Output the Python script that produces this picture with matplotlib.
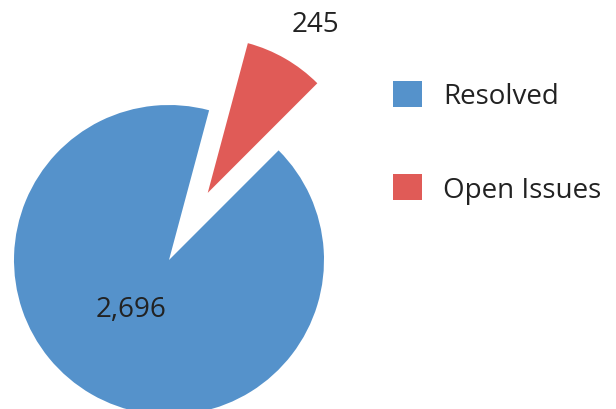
import numpy as np
import matplotlib
matplotlib.use("Agg")
import matplotlib.pyplot as plt
from matplotlib.patches import Patch

categories = ["Resolved", "Open Issues"]
counts = [2696, 245]
colors = ["#5592CB", "#E05B57"]
explode = [0.0, 0.5]

plt.rcParams["font.family"] = ["Open Sans", "DejaVu Sans"]

W, H, DPI = 616, 410, 100
fig = plt.figure(figsize=(W / DPI, H / DPI), dpi=DPI)
ax = fig.add_axes([0, 0, 1, 1])

R = 155.0          # pie radius in pixels
cx, cy = 169, 149  # pie centre in pixels from bottom-left

wedges, texts = ax.pie(counts, colors=colors, explode=explode, startangle=75,
                       radius=1, wedgeprops=dict(linewidth=0))

# value labels: inside for the big slice, outside for the exploded one
# (distance from wedge centre, angle nudge in degrees)
label_pos = [(0.40, -8), (1.29, -2.5)]
for w, v, (d, nudge) in zip(wedges, counts, label_pos):
    mid = np.deg2rad((w.theta1 + w.theta2) / 2 + nudge)
    x0, y0 = w.center
    ax.text(x0 + d * np.cos(mid), y0 + d * np.sin(mid), f"{v:,}",
            ha="center", va="center", fontsize=20, color="#222222")

ax.set_xlim(-cx / R, (W - cx) / R)
ax.set_ylim(-cy / R, (H - cy) / R)
ax.set_aspect("equal")
ax.axis("off")

handles = [Patch(facecolor=c, edgecolor="none") for c in colors]
leg = fig.legend(handles, categories, loc="upper left",
                 bbox_to_anchor=(393 / W, 1 - 82 / H),
                 frameon=False, fontsize=20, handlelength=1.05, handleheight=1.05,
                 handletextpad=0.75, labelspacing=2.3, labelcolor="#222222",
                 borderpad=0, borderaxespad=0)

fig.savefig("out.png", dpi=DPI, facecolor="white")
